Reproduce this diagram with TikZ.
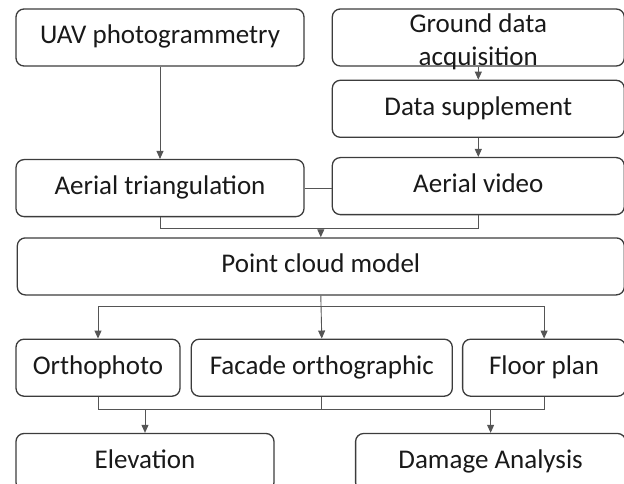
\documentclass[tikz,border=0pt]{standalone}
\usepackage{fontspec}
\setmainfont{Carlito}
\usetikzlibrary{graphs,positioning,arrows.meta}
\definecolor{boxline}{HTML}{3C3C3C}
\definecolor{wire}{HTML}{555555}
\tikzset{
    >={Triangle[width=7pt,length=8pt]},
    box/.style ={
        shape=rectangle,
        rounded corners=8pt,
        draw=boxline,
        line width=1.3pt,
        text=black!90,
        inner sep=0pt,
        text height=19pt,
        text depth=6pt,
        minimum height=57pt,
        font=\fontsize{27}{33}\selectfont
    },
    wire/.style ={
        draw=wire,
        line width=0.9pt
    }
}
\begin{document}
\begin{tikzpicture}
    \useasboundingbox (0,0) rectangle (624pt,-484pt);
    \node[box,minimum width=288pt] (uav) at (160pt,-37.5pt) {UAV photogrammetry};
    \node[box,minimum width=292pt,right=27pt of uav] (gda) {};
    \node[align=center,font=\fontsize{27}{33}\selectfont,text=black!90,yshift=-4pt] (gdatext) at (gda) {Ground data\\acquisition};
    \node[box,minimum width=292pt,below=13pt of gda] (ds) {Data supplement};
    \node[box,minimum width=292pt,below=19pt of ds] (av) {Aerial video};
    \node[box,minimum width=288pt,left=27pt of av,yshift=-2pt] (at) {Aerial triangulation};
    \node[box,minimum width=607pt,below=22pt of av,xshift=-157.5pt] (pcm) {Point cloud model};
    \node[box,minimum width=261pt,below=43pt of pcm,xshift=1pt] (facade) {Facade orthographic};
    \node[box,minimum width=164pt,left=10pt of facade] (ortho) {Orthophoto};
    \node[box,minimum width=163pt,right=9pt of facade] (floor) {Floor plan};
    \node[box,minimum width=258pt,below=36pt of ortho,xshift=47pt] (elev) {Elevation};
    \node[box,minimum width=270pt,below=36pt of floor,xshift=-53.5pt] (dmg) {Damage Analysis};
    \coordinate (join) at ([yshift=9pt]pcm.north);
    \coordinate (split) at ([yshift=-11pt]pcm.south);
    \coordinate (merge) at ([yshift=-13pt]facade.south);
    \graph[edges={wire}]{
        (uav)->(at);
        (gda)->(ds)->(av);
    };
    \draw[wire] (at.east) -- (at.east -| av.west);
    \draw[wire] (at.south) |- (join) -| (av.south);
    \draw[wire,->] (join) -- (pcm.north);
    \draw[wire,->] (pcm.south) -- (facade.north);
    \draw[wire,->] (split) -| (ortho.north);
    \draw[wire,->] (split) -| (floor.north);
    \draw[wire] (ortho.south) |- (merge) -| (floor.south);
    \draw[wire] (facade.south) -- (merge);
    \draw[wire,->] (merge -| elev.north) -- (elev.north);
    \draw[wire,->] (merge -| dmg.north) -- (dmg.north);
\end{tikzpicture}
\end{document}
